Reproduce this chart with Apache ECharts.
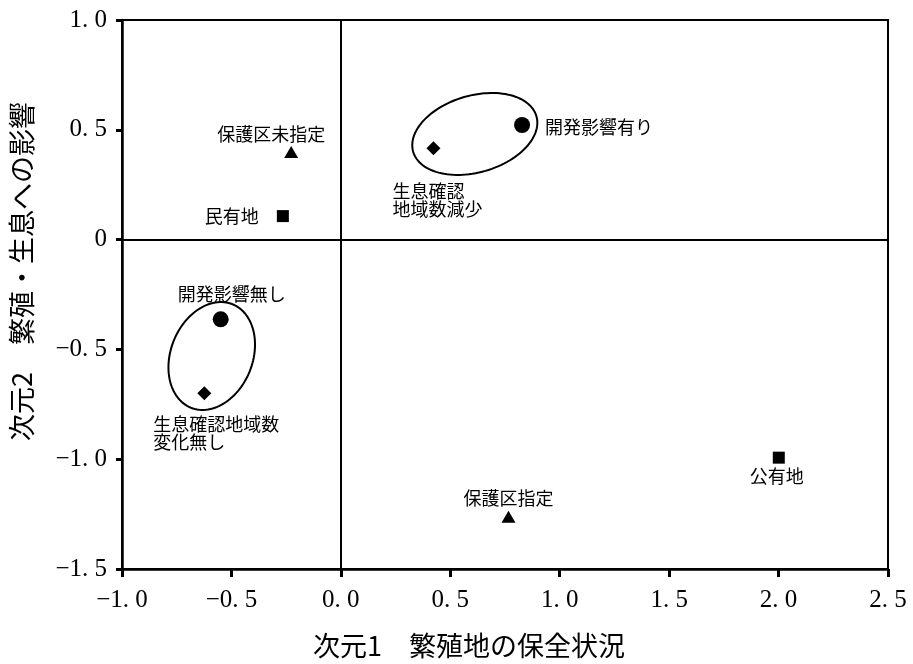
<!DOCTYPE html>
<html>
<head>
<meta charset="utf-8">
<script src="https://cdn.jsdelivr.net/npm/echarts@6/dist/echarts.min.js"></script>
<style>
  html, body { margin: 0; padding: 0; background: #fff; }
  #chart { width: 913px; height: 664px; }
</style>
</head>
<body>
<div id="chart"></div>
<script>
// Protection status (triangles)
const protectNames = ['保護区未指定', '保護区指定'];
const protectX = [-0.227, 0.766];
const protectY = [0.399, -1.262];

// Land ownership (squares)
const ownerNames = ['民有地', '公有地'];
const ownerX = [-0.265, 2.001];
const ownerY = [0.107, -0.993];

// Development impact (circles)
const impactNames = ['開発影響有り', '開発影響無し'];
const impactX = [0.828, -0.549];
const impactY = [0.522, -0.363];

// Change in number of confirmed habitat areas (diamonds)
const trendNames = ['生息確認\n地域数減少', '生息確認地域数\n変化無し'];
const trendX = [0.423, -0.624];
const trendY = [0.416, -0.700];

// Grouping ellipses: centre, semi-axes and tilt (degrees), in data units
const groupCx = [0.612, -0.590];
const groupCy = [0.481, -0.530];
const groupRa = [0.293, 0.254];
const groupRb = [0.175, 0.187];
const groupTilt = [16, 68];

// Axis ranges
const xMin = -1.0, xMax = 2.5, yMin = -1.5, yMax = 1.0, tickStep = 0.5;

const labelFont = 'Noto Sans CJK JP';
const numFont = 'Liberation Serif';

// Label placement per point name
const labelPlacement = {
  '保護区未指定': { position: 'top', distance: 3, offset: [-20, 0] },
  '保護区指定': { position: 'top', distance: 4, offset: [0, 0] },
  '民有地': { position: 'left', distance: 18, offset: [0, 0] },
  '公有地': { position: 'bottom', distance: 3, offset: [-2, 0] },
  '開発影響有り': { position: 'right', distance: 15, offset: [0, 2] },
  '開発影響無し': { position: 'top', distance: 8, offset: [11, 0] },
  '生息確認\n地域数減少': { position: 'bottom', distance: 27, align: 'left', offset: [-41, 0] },
  '生息確認地域数\n変化無し': { position: 'bottom', distance: 15, align: 'left', offset: [-51, 0] }
};

function points(names, xs, ys) {
  return names.map((n, i) => {
    const p = labelPlacement[n];
    const label = {
      show: true,
      formatter: n,
      position: p.position,
      distance: p.distance,
      offset: p.offset,
      fontFamily: labelFont,
      fontSize: 18,
      lineHeight: 18,
      color: '#000'
    };
    if (p.align) label.align = p.align;
    return { name: n, value: [xs[i], ys[i]], label: label };
  });
}

function numLabel(v, zeroPlain) {
  if (zeroPlain && Math.abs(v) < 1e-9) return '0';
  const s = Math.abs(v).toFixed(1).replace('.', '. ');
  return (v < -1e-9 ? '\u2212' : '') + s;
}

const ellipseData = groupCx.map((c, i) => [c, groupCy[i], groupRa[i], groupRb[i], groupTilt[i]]);

const chart = echarts.init(document.getElementById('chart'), null, { renderer: 'canvas' });

const markerStyle = { color: '#000', opacity: 1 };

chart.setOption({
  animation: false,
  backgroundColor: '#fff',
  grid: {
    left: 122, right: 25, top: 20, bottom: 95,
    show: true, borderColor: '#000', borderWidth: 2, backgroundColor: 'transparent'
  },
  xAxis: {
    type: 'value', min: xMin, max: xMax, interval: tickStep,
    name: '次元1　繁殖地の保全状況',
    nameLocation: 'middle', nameGap: 63,
    nameTextStyle: { fontFamily: labelFont, fontSize: 27, color: '#000', padding: [0, 72, 0, 0] },
    axisLine: { onZero: false, lineStyle: { color: '#000', width: 2.5 } },
    axisTick: { show: true, inside: false, length: 8, lineStyle: { color: '#000', width: 3 } },
    axisLabel: { margin: 19, fontFamily: numFont, fontSize: 25, color: '#000', formatter: v => numLabel(v, false) },
    splitLine: { show: false }
  },
  yAxis: {
    type: 'value', min: yMin, max: yMax, interval: tickStep,
    name: '次元2　繁殖・生息への影響',
    nameLocation: 'middle', nameGap: 87,
    nameTextStyle: { fontFamily: labelFont, fontSize: 27, color: '#000', padding: [0, 0, 0, 46] },
    axisLine: { onZero: false, lineStyle: { color: '#000', width: 2.5 } },
    axisTick: { show: true, inside: false, length: 6, lineStyle: { color: '#000', width: 3 } },
    axisLabel: { margin: 15, fontFamily: numFont, fontSize: 25, color: '#000', formatter: v => numLabel(v, true) },
    splitLine: { show: false }
  },
  series: [
    {
      type: 'custom',
      name: 'groups',
      silent: true,
      clip: false,
      data: ellipseData,
      encode: { x: 0, y: 1 },
      renderItem: function (params, api) {
        const cx = api.value(0), cy = api.value(1);
        const ra = api.value(2), rb = api.value(3);
        const t0 = api.value(4) * Math.PI / 180;
        const pts = [];
        const n = 120;
        for (let k = 0; k < n; k++) {
          const t = k / n * Math.PI * 2;
          const dx = ra * Math.cos(t), dy = rb * Math.sin(t);
          pts.push(api.coord([
            cx + dx * Math.cos(t0) - dy * Math.sin(t0),
            cy + dx * Math.sin(t0) + dy * Math.cos(t0)
          ]));
        }
        return {
          type: 'polygon',
          shape: { points: pts },
          style: { fill: 'none', stroke: '#000', lineWidth: 2 }
        };
      },
      markLine: {
        silent: true,
        symbol: 'none',
        label: { show: false },
        lineStyle: { color: '#000', width: 2, type: 'solid' },
        data: [{ xAxis: 0 }, { yAxis: 0 }]
      },
      z: 1
    },
    {
      type: 'scatter', name: '保護区', symbol: 'triangle', symbolSize: [14, 12],
      itemStyle: markerStyle, data: points(protectNames, protectX, protectY), z: 3
    },
    {
      type: 'scatter', name: '所有', symbol: 'rect', symbolSize: 12,
      itemStyle: markerStyle, data: points(ownerNames, ownerX, ownerY), z: 3
    },
    {
      type: 'scatter', name: '開発影響', symbol: 'circle', symbolSize: 16,
      itemStyle: markerStyle, data: points(impactNames, impactX, impactY), z: 3
    },
    {
      type: 'scatter', name: '生息確認地域数', symbol: 'diamond', symbolSize: 14,
      itemStyle: markerStyle, data: points(trendNames, trendX, trendY), z: 3
    }
  ]
});
</script>
</body>
</html>
